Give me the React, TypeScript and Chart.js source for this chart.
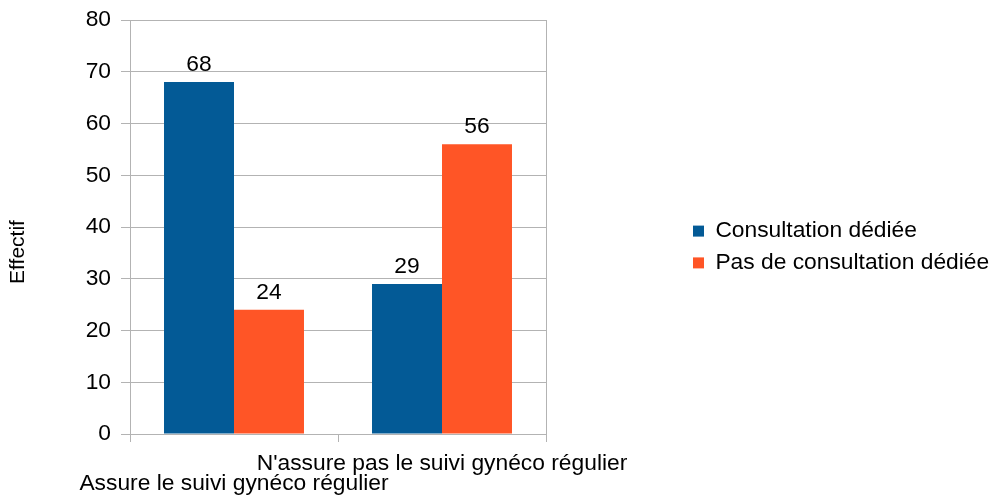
import React, { useEffect, useRef } from 'react';
import { Chart, registerables } from 'chart.js';

Chart.register(...registerables);

const categories: (string | string[])[] = [
  ['', 'Assure le suivi gynéco régulier'],
  ["N'assure pas le suivi gynéco régulier", ''],
];
const seriesNames = ['Consultation dédiée', 'Pas de consultation dédiée'];
const consultationDediee = [68, 29];
const pasDeConsultation = [24, 56];
const seriesColors = ['#035a96', '#ff5526'];
const yMin = 0;
const yMax = 80;
const yStep = 10;
const yTitle = 'Effectif';

const FONT = "'Liberation Sans', Arial, sans-serif";
const GRID = '#b3b3b3';

const valueLabels = {
  id: 'valueLabels',
  afterDatasetsDraw(chart: any) {
    const ctx = chart.ctx;
    ctx.save();
    ctx.font = `22.8px ${FONT}`;
    ctx.fillStyle = '#000';
    ctx.textAlign = 'center';
    ctx.textBaseline = 'alphabetic';
    chart.data.datasets.forEach((ds: any, i: number) => {
      const meta = chart.getDatasetMeta(i);
      meta.data.forEach((el: any, j: number) => {
        ctx.fillText(String(ds.data[j]), el.x, el.y - 11);
      });
    });
    ctx.restore();
  },
};

const legendPlacer = {
  id: 'legendPlacer',
  afterInit(chart: any) {
    const legend = chart.legend;
    if (!legend) return;
    const origFit = legend.fit.bind(legend);
    legend.fit = () => {
      origFit();
      legend.width = 446;
    };
  },
  afterLayout(chart: any) {
    const legend = chart.legend;
    if (!legend) return;
    const w = legend.width;
    legend.left = 684;
    legend.right = 684 + w;
    legend.top -= 12;
    legend.bottom -= 12;
  },
  beforeDraw(chart: any) {
    const s = chart.scales.y;
    if (!s || s.__titleWrapped) return;
    const orig = s.drawTitle;
    s.drawTitle = function () {
      const t = this.top;
      const b = this.bottom;
      this.top = t + 25;
      this.bottom = b + 25;
      orig.call(this);
      this.top = t;
      this.bottom = b;
    };
    s.__titleWrapped = true;
  },
};

export default function App() {
  const ref = useRef<HTMLCanvasElement>(null);
  useEffect(() => {
    const chart = new Chart(ref.current!, {
      type: 'bar',
      data: {
        labels: categories,
        datasets: [
          {
            label: seriesNames[0],
            data: consultationDediee,
            backgroundColor: seriesColors[0],
            categoryPercentage: 0.673,
            barPercentage: 1,
          },
          {
            label: seriesNames[1],
            data: pasDeConsultation,
            backgroundColor: seriesColors[1],
            categoryPercentage: 0.673,
            barPercentage: 1,
          },
        ],
      },
      options: {
        responsive: false,
        animation: false,
        layout: { padding: { top: 20, left: 0, right: 0, bottom: 0 } },
        plugins: {
          legend: {
            position: 'right',
            labels: {
              boxWidth: 11,
              boxHeight: 11,
              padding: 9,
              color: '#000',
              font: { family: FONT, size: 22.8 },
            },
          },
          tooltip: { enabled: false },
        },
        scales: {
          x: {
            grid: { drawOnChartArea: false, tickLength: 8, color: GRID },
            border: { color: GRID },
            ticks: {
              maxRotation: 0,
              minRotation: 0,
              autoSkip: false,
              color: '#000',
              padding: 12,
              font: { family: FONT, size: 22.8, lineHeight: 0.87 },
            },
            afterFit: (s: any) => {
              s.height = 64;
            },
          },
          y: {
            min: yMin,
            max: yMax,
            ticks: {
              stepSize: yStep,
              padding: 10,
              color: '#000',
              font: { family: FONT, size: 22.8 },
            },
            grid: { color: GRID, tickLength: 9 },
            border: { color: GRID },
            title: {
              display: true,
              text: yTitle,
              color: '#000',
              font: { family: FONT, size: 21 },
              padding: { top: 6, bottom: 0 },
            },
            afterFit: (s: any) => {
              s.width = 130;
              s.paddingTop = 0;
              s.paddingBottom = 0;
            },
          },
          y2: {
            position: 'right',
            min: yMin,
            max: yMax,
            grid: { drawOnChartArea: false, drawTicks: false },
            ticks: { display: false },
            border: { display: true, color: GRID },
          },
        },
      } as any,
      plugins: [valueLabels, legendPlacer],
    });
    return () => chart.destroy();
  }, []);
  return (
    <div style={{ position: 'absolute', left: 0, top: 0, width: 992, height: 498 }}>
      <canvas ref={ref} width={992} height={498} style={{ display: 'block' }} />
    </div>
  );
}
